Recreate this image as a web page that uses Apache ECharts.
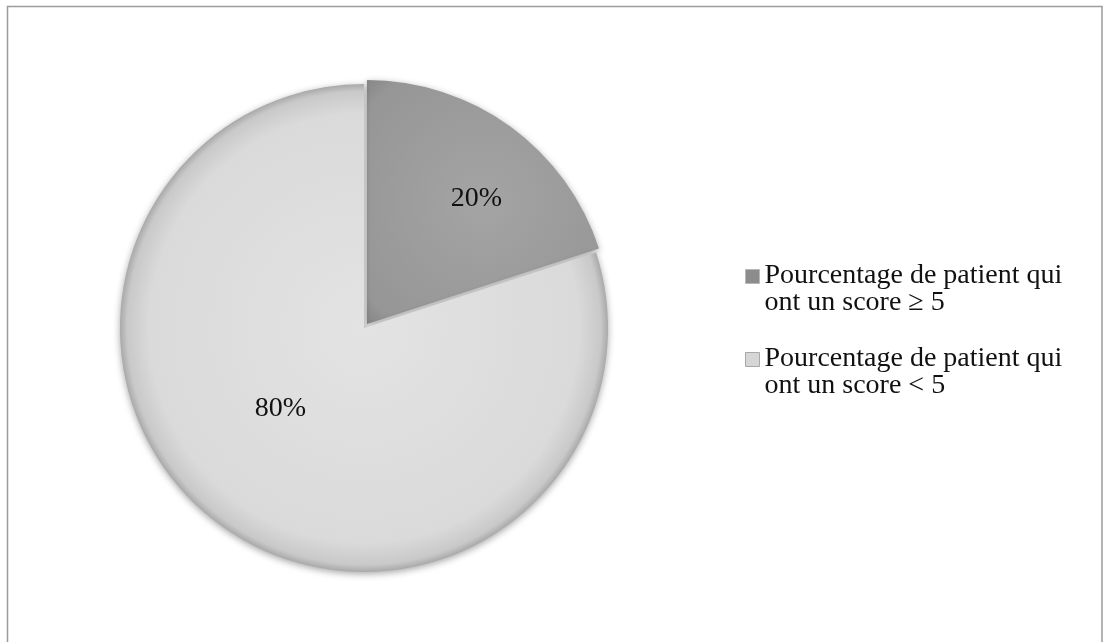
<!DOCTYPE html>
<html>
<head>
<meta charset="utf-8">
<script src="https://cdn.jsdelivr.net/npm/echarts@6/dist/echarts.min.js"></script>
<style>
  html, body { margin: 0; padding: 0; background: #ffffff; }
  #chart { width: 1103px; height: 642px; }
</style>
</head>
<body>
<div id="chart"></div>
<script>
// Share of patients by score threshold
const categories = [
  'Pourcentage de patient qui\nont un score ≥ 5',
  'Pourcentage de patient qui\nont un score < 5'
];
const values = [20, 80];

const sliceFills = [
  { type: 'radial', x: 0.5, y: 0.5, r: 0.75,
    colorStops: [{ offset: 0, color: '#a4a4a4' }, { offset: 0.85, color: '#969696' }, { offset: 1, color: '#828282' }] },
  { type: 'radial', x: 0.5, y: 0.5, r: 0.5,
    colorStops: [{ offset: 0, color: '#e3e3e3' }, { offset: 0.88, color: '#dadada' }, { offset: 0.97, color: '#c9c9c9' }, { offset: 1, color: '#a9a9a9' }] }
];
const legendFills = ['#8c8c8c', '#d6d6d6'];
const legendEdges = ['#b8b8b8', '#a8a8a8'];
const labelShift = [[36, -24], [-10, -20]];

const serif = '"Liberation Serif", "DejaVu Serif", serif';

// Legend marker: a 14px square at the top of a 40px-tall slot, so it sits
// beside the first line of each two-line entry.
const legendIcon = 'path://M0,0H14V14H0Z M0,40H0.01V40.01H0Z';

const chart = echarts.init(document.getElementById('chart'), null, { renderer: 'canvas' });

chart.setOption({
  backgroundColor: '#ffffff',
  animation: false,
  graphic: [{
    type: 'rect',
    shape: { x: 7.5, y: 6.5, width: 1094.5, height: 660 },
    style: { fill: 'none', stroke: '#9c9c9c', lineWidth: 1.5 },
    silent: true
  }],
  legend: {
    orient: 'vertical',
    left: 745,
    top: 262,
    padding: 0,
    itemWidth: 14,
    itemHeight: 40,
    itemGap: 28,
    icon: legendIcon,
    selectedMode: false,
    textStyle: {
      fontFamily: serif,
      fontSize: 28,
      lineHeight: 27,
      color: '#111111'
    },
    data: categories.map((name, i) => ({
      name: name,
      itemStyle: { color: legendFills[i], borderColor: legendEdges[i], borderWidth: 1 }
    }))
  },
  series: [{
    type: 'pie',
    center: [364, 328],
    radius: 244,
    startAngle: 90,
    clockwise: true,
    selectedMode: 'multiple',
    selectedOffset: 5,
    avoidLabelOverlap: false,
    itemStyle: {
      borderWidth: 0,
      shadowBlur: 7,
      shadowColor: 'rgba(0,0,0,0.35)',
      shadowOffsetY: 2
    },
    label: {
      show: true,
      position: 'inside',
      formatter: '{d}%',
      fontFamily: serif,
      fontSize: 28,
      color: '#111111'
    },
    labelLine: { show: false },
    emphasis: { disabled: true },
    data: categories.map((name, i) => ({
      name: name,
      value: values[i],
      selected: i === 0,
      itemStyle: { color: sliceFills[i] },
      label: { offset: labelShift[i] },
      select: { label: { offset: labelShift[i] } }
    }))
  }]
});
</script>
</body>
</html>
